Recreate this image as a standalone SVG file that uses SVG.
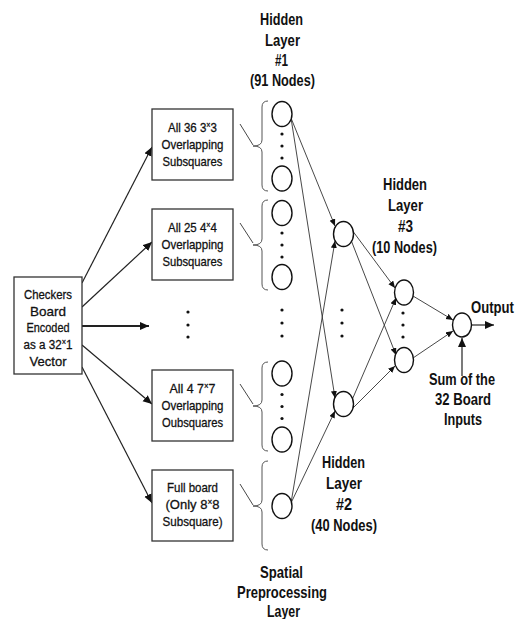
<svg xmlns="http://www.w3.org/2000/svg" width="517" height="619" viewBox="0 0 517 619">
<style>
.box{fill:#fff;stroke:#333;stroke-width:1.3}
.t{font-family:"Liberation Sans",Arial,sans-serif;font-size:13.5px;text-anchor:middle;fill:#111;stroke:#111;stroke-width:0.3}
.h{font-family:"Liberation Sans",Arial,sans-serif;font-size:16.5px;font-weight:bold;text-anchor:middle;fill:#111}
.sup{font-size:8.5px}
.n{fill:#fff;stroke:#111;stroke-width:1.4}
.dot{fill:#111}
.br{fill:none;stroke:#555;stroke-width:1}
.ln{stroke:#333;stroke-width:0.9;fill:none}
.la{stroke:#222;stroke-width:1.2;fill:none}
</style>
<defs>
<marker id="big" markerUnits="userSpaceOnUse" markerWidth="10" markerHeight="9" refX="9" refY="4" orient="auto"><path d="M0,0 L9,4 L0,8 z" fill="#111"/></marker>
<marker id="sm" markerUnits="userSpaceOnUse" markerWidth="8" markerHeight="7" refX="7" refY="3" orient="auto"><path d="M0,0 L7,3 L0,6 z" fill="#111"/></marker>
</defs>

<g id="connectors">
<line class="la" x1="82" y1="283" x2="152" y2="147" marker-end="url(#big)"/>
<line class="la" x1="82" y1="307" x2="152" y2="242" marker-end="url(#big)"/>
<line class="la" x1="82" y1="326" x2="149" y2="326" style="stroke-width:2" marker-end="url(#big)"/>
<line class="la" x1="82" y1="345" x2="152" y2="404" marker-end="url(#big)"/>
<line class="la" x1="82" y1="367" x2="152" y2="503" marker-end="url(#big)"/>
<line class="ln" x1="240" y1="124" x2="253" y2="145"/>
<line class="ln" x1="240" y1="223" x2="253" y2="243"/>
<line class="ln" x1="240" y1="384" x2="253" y2="404"/>
<line class="ln" x1="240" y1="484" x2="253" y2="505"/>
<line class="ln" x1="291" y1="118" x2="335" y2="226" marker-end="url(#sm)"/>
<line class="ln" x1="291" y1="118" x2="335" y2="398" marker-end="url(#sm)"/>
<line class="ln" x1="291" y1="503" x2="335" y2="241" marker-end="url(#sm)"/>
<line class="ln" x1="291" y1="503" x2="335" y2="411" marker-end="url(#sm)"/>
<line class="ln" x1="352" y1="230" x2="395" y2="288" marker-end="url(#sm)"/>
<line class="ln" x1="351" y1="240" x2="396" y2="355" marker-end="url(#sm)"/>
<line class="ln" x1="352" y1="400" x2="396" y2="298" marker-end="url(#sm)"/>
<line class="ln" x1="353" y1="408" x2="395" y2="366" marker-end="url(#sm)"/>
<line class="ln" x1="413" y1="296" x2="453" y2="320" marker-end="url(#sm)"/>
<line class="ln" x1="413" y1="358" x2="453" y2="331" marker-end="url(#sm)"/>
<line class="la" x1="471.5" y1="325" x2="494" y2="325" marker-end="url(#big)"/>
<line class="la" x1="462" y1="376" x2="462" y2="338" marker-end="url(#big)"/>
</g>

<g id="input">
<rect class="box" x="14" y="277" width="68" height="97"/>
<text class="t" x="48" y="298.7" textLength="48" lengthAdjust="spacingAndGlyphs">Checkers</text>
<text class="t" x="48" y="315.5" textLength="36" lengthAdjust="spacingAndGlyphs">Board</text>
<text class="t" x="48" y="332.3" textLength="43" lengthAdjust="spacingAndGlyphs">Encoded</text>
<text class="t" transform="translate(48,349.1) scale(0.863,1)">as a 32<tspan class="sup" dy="-4">×</tspan><tspan dy="4">1</tspan></text>
<text class="t" x="48" y="365.9" textLength="37" lengthAdjust="spacingAndGlyphs">Vector</text>
</g>

<g id="box1">
<rect class="box" x="152" y="109" width="81" height="71"/>
<text class="t" transform="translate(192.5,131.7) scale(0.852,1)">All 36 3<tspan class="sup" dy="-4">×</tspan><tspan dy="4">3</tspan></text>
<text class="t" x="192.5" y="148.7" textLength="62" lengthAdjust="spacingAndGlyphs">Overlapping</text>
<text class="t" x="192.5" y="165.7" textLength="60" lengthAdjust="spacingAndGlyphs">Subsquares</text>
</g>
<g id="box2">
<rect class="box" x="152" y="209" width="81" height="71"/>
<text class="t" transform="translate(192.5,231.7) scale(0.852,1)">All 25 4<tspan class="sup" dy="-4">×</tspan><tspan dy="4">4</tspan></text>
<text class="t" x="192.5" y="248.7" textLength="62" lengthAdjust="spacingAndGlyphs">Overlapping</text>
<text class="t" x="192.5" y="265.7" textLength="60" lengthAdjust="spacingAndGlyphs">Subsquares</text>
</g>
<g id="box-dots">
<circle class="dot" cx="188" cy="312" r="1.6"/>
<circle class="dot" cx="188" cy="325" r="1.6"/>
<circle class="dot" cx="188" cy="337" r="1.6"/>
</g>
<g id="box3">
<rect class="box" x="152" y="370" width="81" height="71"/>
<text class="t" transform="translate(192.5,392.7) scale(0.92,1)">All 4 7<tspan class="sup" dy="-4">×</tspan><tspan dy="4">7</tspan></text>
<text class="t" x="192.5" y="409.7" textLength="62" lengthAdjust="spacingAndGlyphs">Overlapping</text>
<text class="t" x="192.5" y="426.7" textLength="61" lengthAdjust="spacingAndGlyphs">Oubsquares</text>
</g>
<g id="box4">
<rect class="box" x="152" y="470" width="81" height="71"/>
<text class="t" x="192.5" y="491.7" textLength="51" lengthAdjust="spacingAndGlyphs">Full board</text>
<text class="t" transform="translate(192.5,508.7) scale(0.964,1)">(Only 8<tspan class="sup" dy="-4">×</tspan><tspan dy="4">8</tspan></text>
<text class="t" x="192.5" y="525.7" textLength="60" lengthAdjust="spacingAndGlyphs">Subsquare)</text>
</g>

<g id="braces">
<path class="br" d="M268,101 Q262,101 262,107 L262,140 Q262,146 253,146 Q262,146 262,152 L262,185 Q262,191 268,191"/>
<path class="br" d="M268,200 Q262,200 262,206 L262,239 Q262,245 253,245 Q262,245 262,251 L262,284 Q262,290 268,290"/>
<path class="br" d="M268,362 Q262,362 262,368 L262,400 Q262,406 253,406 Q262,406 262,412 L262,445 Q262,451 268,451"/>
<path class="br" d="M268,461 Q262,461 262,467 L262,500 Q262,506 253,506 Q262,506 262,512 L262,544 Q262,550 268,550"/>
</g>

<g id="layer1">
<ellipse class="n" cx="282" cy="114" rx="10" ry="12.5"/>
<circle class="dot" cx="282" cy="134" r="1.6"/>
<circle class="dot" cx="282" cy="146" r="1.6"/>
<circle class="dot" cx="282" cy="158" r="1.6"/>
<ellipse class="n" cx="282" cy="178.5" rx="10" ry="12.5"/>
<ellipse class="n" cx="282" cy="213" rx="10" ry="12.5"/>
<circle class="dot" cx="282" cy="233" r="1.6"/>
<circle class="dot" cx="282" cy="245" r="1.6"/>
<circle class="dot" cx="282" cy="257" r="1.6"/>
<ellipse class="n" cx="282" cy="277" rx="10" ry="12.5"/>
<circle class="dot" cx="282" cy="310" r="1.6"/>
<circle class="dot" cx="282" cy="323" r="1.6"/>
<circle class="dot" cx="282" cy="336" r="1.6"/>
<ellipse class="n" cx="282" cy="373.5" rx="10" ry="12.5"/>
<circle class="dot" cx="282" cy="394.5" r="1.6"/>
<circle class="dot" cx="282" cy="406.5" r="1.6"/>
<circle class="dot" cx="282" cy="418.5" r="1.6"/>
<ellipse class="n" cx="282" cy="439.5" rx="10" ry="12.5"/>
<ellipse class="n" cx="282" cy="506" rx="10" ry="12.5"/>
</g>

<g id="layer2">
<ellipse class="n" cx="343.5" cy="234" rx="10" ry="12.5"/>
<circle class="dot" cx="342" cy="310" r="1.6"/>
<circle class="dot" cx="342" cy="323" r="1.6"/>
<circle class="dot" cx="342" cy="336" r="1.6"/>
<ellipse class="n" cx="343.5" cy="404" rx="10" ry="12.5"/>
</g>

<g id="layer3">
<ellipse class="n" cx="404" cy="292.5" rx="9.5" ry="12.5"/>
<circle class="dot" cx="403" cy="313" r="1.6"/>
<circle class="dot" cx="403" cy="325" r="1.6"/>
<circle class="dot" cx="403" cy="337" r="1.6"/>
<ellipse class="n" cx="404" cy="360" rx="9.5" ry="12.5"/>
</g>

<g id="output">
<ellipse class="n" cx="462" cy="325" rx="9.5" ry="12"/>
<text class="h" transform="translate(492.5,313) scale(0.795,1)">Output</text>
</g>

<g id="sum-label">
<text class="h" x="462" y="385" textLength="66" lengthAdjust="spacingAndGlyphs">Sum of the</text>
<text class="h" x="463" y="405" textLength="56" lengthAdjust="spacingAndGlyphs">32 Board</text>
<text class="h" x="463" y="425" textLength="38" lengthAdjust="spacingAndGlyphs">Inputs</text>
</g>

<g id="title-hl1">
<text class="h" x="281.5" y="25" textLength="43" lengthAdjust="spacingAndGlyphs">Hidden</text>
<text class="h" x="282.5" y="45.5" textLength="35" lengthAdjust="spacingAndGlyphs">Layer</text>
<text class="h" x="281.5" y="66" textLength="13" lengthAdjust="spacingAndGlyphs">#1</text>
<text class="h" x="282.5" y="86" textLength="65" lengthAdjust="spacingAndGlyphs">(91 Nodes)</text>
</g>
<g id="title-hl3">
<text class="h" x="405" y="190" textLength="44" lengthAdjust="spacingAndGlyphs">Hidden</text>
<text class="h" x="405.5" y="210.5" textLength="35" lengthAdjust="spacingAndGlyphs">Layer</text>
<text class="h" x="405.5" y="231.5" textLength="15" lengthAdjust="spacingAndGlyphs">#3</text>
<text class="h" x="404.5" y="252.5" textLength="65" lengthAdjust="spacingAndGlyphs">(10 Nodes)</text>
</g>
<g id="title-hl2">
<text class="h" x="343.5" y="468" textLength="43" lengthAdjust="spacingAndGlyphs">Hidden</text>
<text class="h" x="344" y="488.5" textLength="36" lengthAdjust="spacingAndGlyphs">Layer</text>
<text class="h" x="344" y="509.5" textLength="16" lengthAdjust="spacingAndGlyphs">#2</text>
<text class="h" x="344" y="530.5" textLength="66" lengthAdjust="spacingAndGlyphs">(40 Nodes)</text>
</g>
<g id="title-spatial">
<text class="h" x="281.5" y="578" textLength="43" lengthAdjust="spacingAndGlyphs">Spatial</text>
<text class="h" x="282" y="598" textLength="90" lengthAdjust="spacingAndGlyphs">Preprocessing</text>
<text class="h" x="283.5" y="617" textLength="33" lengthAdjust="spacingAndGlyphs">Layer</text>
</g>
</svg>
